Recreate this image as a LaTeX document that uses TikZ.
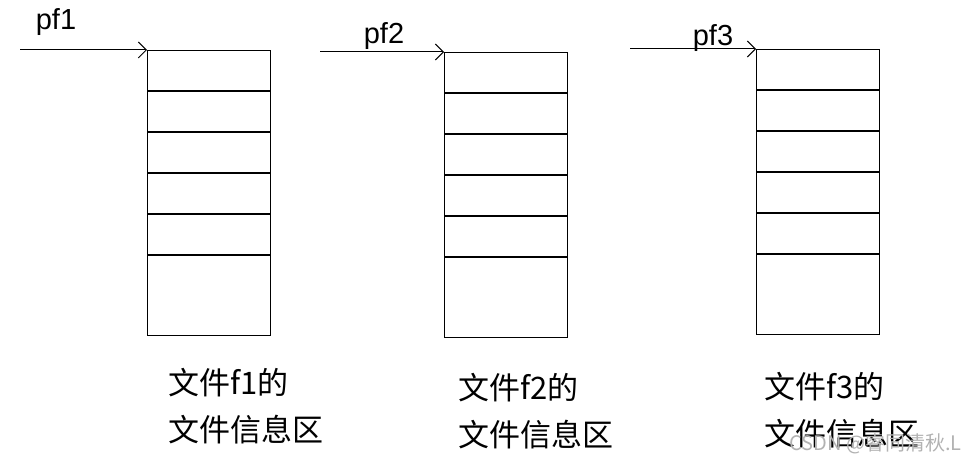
\documentclass[tikz,border=0pt]{standalone}
\usepackage{fontspec}
\setmainfont{Liberation Sans}
\newfontfamily\cjk{Noto Sans CJK SC}
\usetikzlibrary{arrows.meta}
\tikzset{
 stack/.style={draw,line width=1.3pt,minimum width=123pt,minimum height=285pt,inner sep=0pt,anchor=north west},
 ptr/.style={line width=1pt,-{Straight Barb[length=8pt,width=16pt]}},
 lbl/.style={font=\fontsize{29}{32}\selectfont,inner sep=0pt},
 captxt/.style={font=\cjk\fontsize{31}{47}\selectfont,inner sep=0pt,align=left,anchor=north west}
}
\begin{document}
\begin{tikzpicture}[x=1pt,y=-1pt]
\useasboundingbox (0,0) rectangle (978,465);
\foreach \n/\x/\y in {1/147/50,2/444/52,3/756/49}{
  \node[stack] (b\n) at (\x,\y) {};
  \foreach \k in {41,82,123,164,205}
    \draw[line width=1.3pt] (\x,\y+\k) -- (\x+123,\y+\k);
}
\coordinate (s1) at (20,50);
\coordinate (s2) at (320,52);
\coordinate (s3) at (630,49);
\draw[ptr] (s1) -- (b1.north west);
\draw[ptr] (s2) -- (b2.north west);
\draw[ptr] (s3) -- (b3.north west);
\node[lbl] (p1) at (56,22) {pf1};
\node[lbl] (p2) at (384,36) {pf2};
\node[lbl] (p3) at (713,38) {pf3};
\node[captxt] (c1) at (168,368) {文件f1的\\文件信息区};
\node[captxt] (c2) at (458,373) {文件f2的\\文件信息区};
\node[captxt] (c3) at (764,372) {文件f3的\\文件信息区};
\node[font=\cjk\fontsize{20}{22}\selectfont,text=black!30,anchor=east,inner sep=0pt] (wm) at (962,444) {CSDN @睿同清秋.L};
\end{tikzpicture}
\end{document}
